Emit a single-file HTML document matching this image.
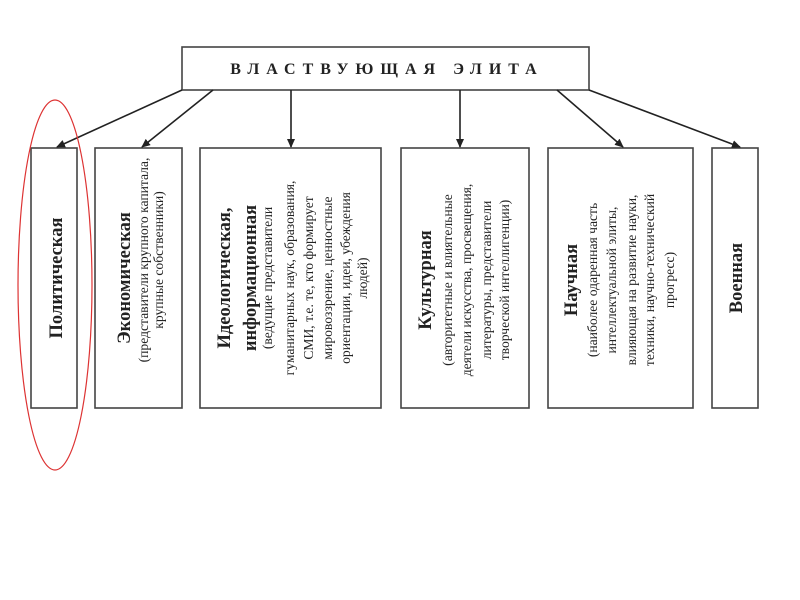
<!DOCTYPE html>
<html><head><meta charset="utf-8"><style>
html,body{margin:0;padding:0;background:#fff;}
svg{display:block;}
text{font-family:"Liberation Serif","DejaVu Serif",serif;fill:#222;}
.t{font-weight:bold;font-size:18.5px;}
.s{font-size:13.6px;}
</style></head><body>
<svg width="800" height="600" viewBox="0 0 800 600" xmlns="http://www.w3.org/2000/svg">
<defs><marker id="a" markerWidth="10" markerHeight="10" refX="8" refY="4" orient="auto" markerUnits="userSpaceOnUse"><path d="M0,0 L9,4 L0,8 z" fill="#222"/></marker></defs>
<g fill="none" stroke="#444" stroke-width="1.6">
<rect x="182" y="47" width="407" height="43"/>
<rect x="31" y="148" width="46" height="260"/>
<rect x="95" y="148" width="87" height="260"/>
<rect x="200" y="148" width="181" height="260"/>
<rect x="401" y="148" width="128" height="260"/>
<rect x="548" y="148" width="145" height="260"/>
<rect x="712" y="148" width="46" height="260"/>
</g>
<g stroke="#222" stroke-width="1.6" marker-end="url(#a)">
<line x1="182" y1="90" x2="57" y2="147"/>
<line x1="213" y1="90" x2="142" y2="147"/>
<line x1="291" y1="90" x2="291" y2="147"/>
<line x1="460" y1="90" x2="460" y2="147"/>
<line x1="557" y1="90" x2="623" y2="147"/>
<line x1="589" y1="90" x2="740" y2="147"/>
</g>
<text x="387" y="74" text-anchor="middle" font-weight="bold" font-size="16" letter-spacing="7">ВЛАСТВУЮЩАЯ  ЭЛИТА</text>
<g text-anchor="middle">
<text class="t" transform="translate(62,278) rotate(-90)">Политическая</text>
<text class="t" transform="translate(130,278) rotate(-90)">Экономическая</text>
<text class="s" transform="translate(148,260) rotate(-90)">(представители крупного капитала,</text>
<text class="s" transform="translate(163,260) rotate(-90)">крупные собственники)</text>
<text class="t" transform="translate(230,278) rotate(-90)">Идеологическая,</text>
<text class="t" transform="translate(256,278) rotate(-90)">информационная</text>
<text class="s" transform="translate(272,278) rotate(-90)">(ведущие представители</text>
<text class="s" transform="translate(294,278) rotate(-90)">гуманитарных наук, образования,</text>
<text class="s" transform="translate(313,278) rotate(-90)">СМИ, т.е. те, кто формирует</text>
<text class="s" transform="translate(332,278) rotate(-90)">мировоззрение, ценностные</text>
<text class="s" transform="translate(350,278) rotate(-90)">ориентации, идеи, убеждения</text>
<text class="s" transform="translate(367,278) rotate(-90)">людей)</text>
<text class="t" transform="translate(431,280) rotate(-90)">Культурная</text>
<text class="s" transform="translate(452,280) rotate(-90)">(авторитетные и влиятельные</text>
<text class="s" transform="translate(471,280) rotate(-90)">деятели искусства, просвещения,</text>
<text class="s" transform="translate(491,280) rotate(-90)">литературы, представители</text>
<text class="s" transform="translate(509,280) rotate(-90)">творческой интеллигенции)</text>
<text class="t" transform="translate(577,280) rotate(-90)">Научная</text>
<text class="s" transform="translate(597,280) rotate(-90)">(наиболее одаренная часть</text>
<text class="s" transform="translate(616,280) rotate(-90)">интеллектуальной элиты,</text>
<text class="s" transform="translate(636,280) rotate(-90)">влияющая на развитие науки,</text>
<text class="s" transform="translate(654,280) rotate(-90)">техники, научно-технический</text>
<text class="s" transform="translate(674,280) rotate(-90)">прогресс)</text>
<text class="t" transform="translate(742,278) rotate(-90)">Военная</text>
</g>
<ellipse cx="55" cy="285" rx="37" ry="185" fill="none" stroke="#d33" stroke-width="1.2"/>
</svg>
</body></html>
